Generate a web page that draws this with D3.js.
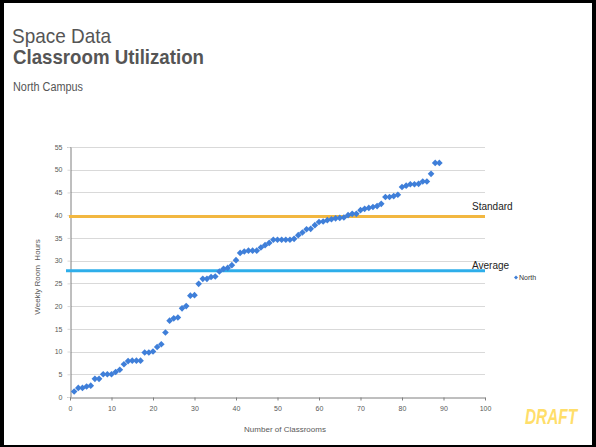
<!DOCTYPE html>
<html>
<head>
<meta charset="utf-8">
<script src="https://cdn.jsdelivr.net/npm/d3@7/dist/d3.min.js"></script>
<style>
  html, body { margin: 0; padding: 0; background: #fff; }
  svg { display: block; }
  text { font-family: "Liberation Sans", Arial, sans-serif; }
</style>
</head>
<body>
<svg id="chart" width="596" height="447"></svg>
<script>
// Weekly room hours per classroom, sorted ascending (North campus)
const classroomNumbers = d3.range(1, 90);
const northHours = [
  1.2, 2.0, 2.0, 2.3, 2.5, 4.0, 4.0, 5.0, 5.0, 5.0,
  5.5, 6.0, 7.2, 7.9, 8.0, 8.0, 8.0, 9.8, 9.8, 10.0,
  11.0, 11.6, 14.2, 16.8, 17.3, 17.5, 19.5, 20.0, 22.3, 22.4,
  24.9, 26.0, 26.0, 26.4, 26.5, 27.6, 28.2, 28.4, 29.0, 30.1,
  31.7, 32.0, 32.2, 32.2, 32.2, 32.9, 33.4, 33.9, 34.6, 34.6,
  34.6, 34.6, 34.6, 34.8, 35.6, 36.2, 36.9, 37.0, 37.8, 38.5,
  38.6, 38.9, 39.1, 39.3, 39.4, 39.5, 40.0, 40.3, 40.3, 41.1,
  41.4, 41.6, 41.8, 42.0, 42.5, 44.0, 44.0, 44.2, 44.5, 46.2,
  46.5, 46.8, 46.8, 46.9, 47.4, 47.4, 49.1, 51.5, 51.5
];
const referenceNames = ["Standard", "Average"];
const referenceValues = [39.7, 27.8];
const referenceColors = ["#F2B740", "#2EAEEA"];
const xTicks = [0, 10, 20, 30, 40, 50, 60, 70, 80, 90, 100];
const yTicks = [0, 5, 10, 15, 20, 25, 30, 35, 40, 45, 50, 55];
const seriesName = "North";

const svg = d3.select("#chart");
const W = 596, H = 447;

// slide frame
svg.append("rect").attr("x", 0).attr("y", 0).attr("width", W).attr("height", H).attr("fill", "#000");
svg.append("rect").attr("x", 4).attr("y", 3).attr("width", W - 8).attr("height", H - 5).attr("fill", "#fff");

// titles (condensed look via horizontal scaling)
const titleFont = "'Liberation Sans Narrow', 'Liberation Sans', Arial, sans-serif";
svg.append("text").attr("x", 12).attr("y", 43).attr("font-size", 21)
  .attr("font-family", titleFont)
  .attr("fill", "#555").attr("textLength", 99).attr("lengthAdjust", "spacingAndGlyphs")
  .text("Space Data");
svg.append("text").attr("x", 13).attr("y", 64).attr("font-size", 21).attr("font-weight", "bold")
  .attr("font-family", titleFont)
  .attr("fill", "#555").attr("textLength", 191).attr("lengthAdjust", "spacingAndGlyphs")
  .text("Classroom Utilization");
svg.append("text").attr("x", 13).attr("y", 91).attr("font-size", 12)
  .attr("font-family", titleFont)
  .attr("fill", "#555").attr("textLength", 70).attr("lengthAdjust", "spacingAndGlyphs")
  .text("North Campus");

const plot = { left: 70, right: 485, top: 147, bottom: 397 };
const x = d3.scaleLinear().domain([0, 100]).range([plot.left, plot.right]);
const y = d3.scaleLinear().domain([0, 55]).range([plot.bottom, plot.top]);

// horizontal gridlines
svg.append("g").selectAll("line").data(yTicks.filter(t => t > 0)).join("line")
  .attr("x1", plot.left).attr("x2", plot.right)
  .attr("y1", d => Math.round(y(d)) + 0.5).attr("y2", d => Math.round(y(d)) + 0.5)
  .attr("stroke", "#d9d9d9").attr("stroke-width", 1);

// y axis
const yAxis = svg.append("g").attr("transform", `translate(${plot.left + 0.5},0)`)
  .call(d3.axisLeft(y).tickValues(yTicks).tickSize(3).tickPadding(5));
yAxis.select(".domain").attr("stroke", "#7f7f7f");
yAxis.selectAll(".tick line").attr("stroke", "#d9d9d9");
yAxis.selectAll("text").attr("font-size", 7).attr("fill", "#595959")
  .attr("font-family", "'Open Sans', sans-serif");

// x axis
const xAxis = svg.append("g").attr("transform", `translate(0,${plot.bottom + 0.5})`)
  .call(d3.axisBottom(x).tickValues(xTicks).tickSize(3).tickPadding(6).tickSizeOuter(0));
xAxis.select(".domain").attr("stroke", "#7f7f7f");
xAxis.selectAll(".tick line").attr("stroke", "#7f7f7f");
xAxis.selectAll("text").attr("font-size", 7).attr("fill", "#595959")
  .attr("font-family", "'Open Sans', sans-serif");

// axis titles
svg.append("text").attr("x", 285).attr("y", 432).attr("text-anchor", "middle")
  .attr("font-size", 8).attr("fill", "#595959").attr("font-family", "'Open Sans', sans-serif")
  .text("Number of Classrooms");
svg.append("text").attr("transform", "translate(40,277) rotate(-90)").attr("text-anchor", "middle")
  .attr("font-size", 8).attr("fill", "#595959").attr("font-family", "'Open Sans', sans-serif")
  .style("white-space", "pre")
  .text("Weekly Room  Hours");

// reference lines with their labels
const labelOffsets = [-6.5, -2];
const refs = referenceNames.map((n, i) => ({ name: n, value: referenceValues[i], color: referenceColors[i], dy: labelOffsets[i] }));
svg.append("g").selectAll("line").data(refs).join("line")
  .attr("x1", (d, i) => i === 0 ? plot.left - 1 : plot.left - 4).attr("x2", plot.right)
  .attr("y1", d => y(d.value)).attr("y2", d => y(d.value))
  .attr("stroke", d => d.color).attr("stroke-width", 3);
svg.append("g").selectAll("text").data(refs).join("text")
  .attr("x", 472).attr("y", d => y(d.value) + d.dy)
  .attr("font-size", 10).attr("fill", "#222")
  .text(d => d.name);

// data points
const diamond = d3.symbol(d3.symbolSquare, 22);
svg.append("g").selectAll("path").data(classroomNumbers).join("path")
  .attr("d", diamond)
  .attr("transform", (d, i) => `translate(${x(d)},${y(northHours[i])}) rotate(45)`)
  .attr("fill", "#3F7FD9");

// legend
svg.append("path").attr("d", d3.symbol(d3.symbolSquare, 8))
  .attr("transform", "translate(516,277.5) rotate(45)").attr("fill", "#3F7FD9");
svg.append("text").attr("x", 519).attr("y", 280).attr("font-size", 7).attr("fill", "#333")
  .text(seriesName);

// draft stamp
svg.append("g").attr("transform", "translate(525,424) scale(0.7,1)")
  .append("text").attr("x", 0).attr("y", 0).attr("font-size", 22)
  .attr("font-family", titleFont)
  .attr("font-weight", "bold").attr("font-style", "italic").attr("fill", "#FFDE6A")
  .text("DRAFT");
</script>
</body>
</html>
